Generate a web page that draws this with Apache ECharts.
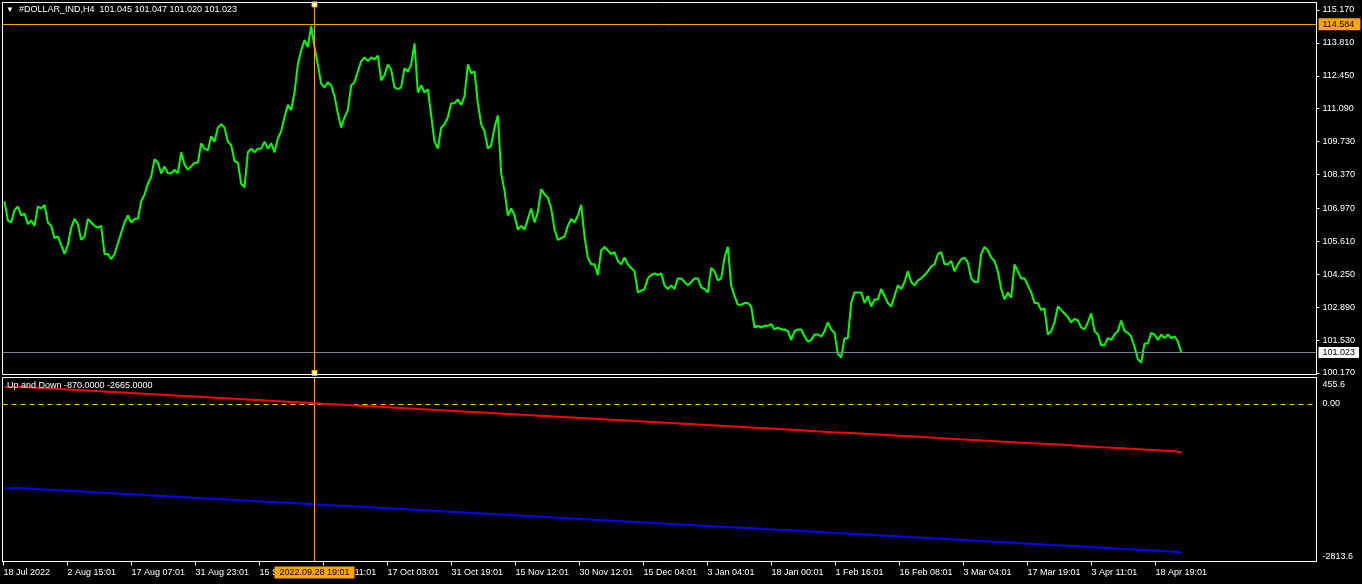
<!DOCTYPE html>
<html>
<head>
<meta charset="utf-8">
<script src="https://cdn.jsdelivr.net/npm/echarts/dist/echarts.min.js"></script>
<style>
html,body{margin:0;padding:0;background:#000;}
#chart{width:1362px;height:584px;}
</style>
</head>
<body>
<div id="chart"></div>
<script>
// ---------- DATA ----------
// H4 close prices, one sample every 10/3 bars
const priceValues = [
107.26,106.47,106.39,106.90,107.05,106.68,106.76,106.32,106.47,106.25,
107.05,106.97,107.12,106.39,106.25,105.74,105.81,105.45,105.09,105.45,
106.18,106.54,106.32,105.67,105.81,106.54,106.39,106.25,106.18,106.25,
105.09,105.09,104.87,105.09,105.52,105.96,106.39,106.68,106.39,106.54,
106.54,107.26,107.55,107.99,108.28,109.00,108.86,108.42,108.71,108.42,
108.42,108.57,108.42,109.29,108.79,108.57,108.71,108.86,108.86,109.66,
109.44,109.37,109.95,109.73,110.31,110.45,110.31,109.73,109.58,108.93,
108.86,107.99,107.84,109.29,109.44,109.29,109.44,109.44,109.73,109.44,
109.66,109.29,109.87,110.16,110.74,111.25,111.03,111.76,112.92,113.50,
113.93,113.64,114.51,113.64,112.92,112.12,111.97,112.19,112.05,111.61,
110.89,110.31,110.74,111.03,112.05,112.19,112.63,113.06,113.21,113.06,
113.21,113.13,113.28,112.26,112.48,112.92,112.70,111.97,111.90,111.97,
112.77,112.63,112.92,113.79,111.76,112.05,111.76,111.90,110.81,109.73,
109.44,110.31,110.45,110.74,111.32,111.32,111.47,111.25,111.61,112.92,
112.55,112.63,111.32,110.45,110.16,109.44,109.58,110.31,110.81,108.42,
107.70,106.68,106.97,106.68,106.10,106.25,106.10,106.54,106.97,106.39,
106.83,107.77,107.55,107.41,106.97,106.10,105.67,105.74,105.81,106.25,
106.54,106.39,106.68,107.12,105.81,104.94,104.66,104.66,104.22,105.23,
105.38,105.23,105.09,105.16,104.80,104.66,104.94,104.66,104.51,104.37,
103.50,103.57,103.64,104.08,104.22,104.29,104.22,104.29,103.79,103.64,
103.79,103.64,104.08,104.08,103.93,103.79,103.93,104.08,104.08,103.71,
103.64,103.50,104.51,104.37,104.00,104.08,104.94,105.38,103.79,103.35,
102.99,102.99,103.06,103.06,102.92,102.05,102.12,102.05,102.12,102.12,
102.19,101.97,102.05,101.97,101.97,101.90,101.54,101.90,101.97,101.97,
101.68,101.47,101.54,101.76,101.76,101.68,101.90,102.26,101.97,101.83,
100.96,100.81,101.61,101.61,103.06,103.50,103.50,103.50,103.06,103.35,
102.92,103.21,103.21,103.64,103.35,103.06,102.92,103.35,103.79,103.64,
103.93,104.37,103.93,103.79,104.00,104.08,104.22,104.37,104.58,104.66,
105.09,105.16,104.66,104.66,104.80,104.37,104.66,104.87,104.94,104.73,
104.08,103.93,103.93,105.09,105.38,105.23,104.94,104.80,104.37,103.64,
103.21,103.50,103.28,104.66,104.37,104.08,104.08,103.79,103.50,103.06,
103.06,102.77,102.84,101.76,101.90,102.26,102.92,102.77,102.63,102.48,
102.26,102.41,102.34,102.05,101.97,102.26,102.63,101.90,101.76,101.32,
101.32,101.61,101.54,101.76,101.90,102.34,101.90,101.83,101.68,101.25,
100.74,100.60,101.39,101.39,101.83,101.76,101.54,101.76,101.61,101.76,
101.61,101.68,101.47,101.02
];
const PRICE_SAMPLE_BARS = 10 / 3;

// "Up and Down" indicator, one value every 18 bars, last value on the last bar
const upValues = [
300,282,264,246,229,211,193,175,157,139,
121,103,85,67,49,32,14,-4,-22,-40,
-58,-76,-94,-112,-129,-147,-165,-183,-201,-219,
-237,-255,-273,-291,-309,-326,-344,-362,-380,-398,
-416,-434,-452,-470,-488,-506,-523,-541,-559,-577,
-595,-613,-631,-649,-667,-685,-703,-720,-738,-756,
-774,-792,-810,-828,-846,-864,-870
];
const downValues = [
-1509,-1527,-1544,-1562,-1580,-1597,-1615,-1633,-1650,-1668,
-1686,-1703,-1721,-1739,-1757,-1774,-1792,-1810,-1827,-1845,
-1863,-1880,-1898,-1916,-1933,-1951,-1969,-1986,-2004,-2022,
-2039,-2057,-2075,-2092,-2110,-2128,-2146,-2163,-2181,-2199,
-2216,-2234,-2252,-2269,-2287,-2305,-2322,-2340,-2358,-2375,
-2393,-2411,-2428,-2446,-2464,-2481,-2499,-2517,-2534,-2552,
-2570,-2588,-2605,-2623,-2641,-2658,-2665
];
const IND_SAMPLE_BARS = 18;

// x-axis labels, one every 64 bars
const xLabels = ['18 Jul 2022','2 Aug 15:01','17 Aug 07:01','31 Aug 23:01','15 Sep 15:01',
  '30 Sep 11:01','17 Oct 03:01','31 Oct 19:01','15 Nov 12:01','30 Nov 12:01','15 Dec 04:01',
  '3 Jan 04:01','18 Jan 00:01','1 Feb 16:01','16 Feb 08:01','3 Mar 04:01','17 Mar 19:01',
  '3 Apr 11:01','18 Apr 19:01'];
const X_LABEL_BARS = 64;

const priceTicks = [115.17,113.81,112.45,111.09,109.73,108.37,106.97,105.61,104.25,102.89,101.53,100.17];
const indTicks = [455.6, 0, -2813.6];

const crossBar = 311;
const crossPrice = 114.584;
const crossLabel = '2022.09.28 19:01';
const bidPrice = 101.023;
const ohlcText = '101.045 101.047 101.020 101.023';

// ---------- BUILD ----------
const FONT = '"Liberation Sans", Arial, sans-serif';
const lastBar = 1 + (priceValues.length - 1) * PRICE_SAMPLE_BARS;
const priceData = priceValues.map((v, i) => [1 + i * PRICE_SAMPLE_BARS, v]);
const indBar = (k, n) => (k === n - 1 ? lastBar : 1 + k * IND_SAMPLE_BARS);
const upData = upValues.map((v, k) => [indBar(k, upValues.length), v]);
const downData = downValues.map((v, k) => [indBar(k, downValues.length), v]);
const tickBars = xLabels.map((_, i) => i * X_LABEL_BARS);

const ORANGE = '#ffa500';
const PRICE_MIN = 100.108, PRICE_MAX = 115.480;
const IND_MIN = -2817, IND_MAX = 470;

const chart = echarts.init(document.getElementById('chart'), null, {renderer: 'canvas'});
chart.setOption({
  backgroundColor: '#000',
  animation: false,
  textStyle: {fontFamily: FONT},
  title: [
    {
      text: '{tri|▼}  #DOLLAR_IND,H4  ' + ohlcText,
      left: 6, top: 5, padding: 0, z: 20,
      textStyle: {color: '#fff', fontSize: 9, fontWeight: 'normal', fontFamily: FONT,
        rich: {tri: {fontSize: 8, color: '#fff', fontFamily: FONT}}}
    },
    {
      text: 'Up and Down ' + upValues[upValues.length - 1].toFixed(4) + ' ' + downValues[downValues.length - 1].toFixed(4),
      left: 7, top: 381, padding: 0, z: 20,
      textStyle: {color: '#fff', fontSize: 9, fontWeight: 'normal', fontFamily: FONT}
    }
  ],
  grid: [
    {left: 2.5, right: 45.5, top: 2.5, height: 372, show: true, borderColor: '#fff', borderWidth: 1, backgroundColor: 'transparent'},
    {left: 2.5, right: 45.5, top: 377.5, height: 184, show: true, borderColor: '#fff', borderWidth: 1, backgroundColor: 'transparent'}
  ],
  xAxis: [
    {type: 'value', gridIndex: 0, min: -1, max: 1313, show: false, axisLine: {onZero: false}},
    {
      type: 'value', gridIndex: 1, min: -1, max: 1313, z: 0,
      axisLine: {show: true, onZero: false, lineStyle: {color: '#fff', width: 1}},
      axisTick: {show: true, customValues: tickBars, length: 4, lineStyle: {color: '#fff'}},
      axisLabel: {customValues: tickBars, formatter: v => xLabels[tickBars.indexOf(v)],
        align: 'left', color: '#fff', fontSize: 9, fontFamily: FONT, margin: 7},
      splitLine: {show: false}
    }
  ],
  yAxis: [
    {
      type: 'value', gridIndex: 0, position: 'right', min: PRICE_MIN, max: PRICE_MAX,
      axisLine: {show: true, onZero: false, lineStyle: {color: '#fff'}},
      axisTick: {show: true, customValues: priceTicks, length: 3, lineStyle: {color: '#fff'}},
      axisLabel: {customValues: priceTicks, formatter: v => v.toFixed(3), color: '#fff', fontSize: 9, fontFamily: FONT, margin: 6},
      splitLine: {show: false}
    },
    {
      type: 'value', gridIndex: 1, position: 'right', min: IND_MIN, max: IND_MAX,
      axisLine: {show: true, onZero: false, lineStyle: {color: '#fff'}},
      axisTick: {show: false},
      axisLabel: {
        customValues: indTicks, color: '#fff', fontSize: 9, fontFamily: FONT, margin: 6,
        formatter: v => v === 0 ? '{m|' + v.toFixed(2) + '}' : (v > 0 ? '{t|' + v + '}' : '{b|' + v + '}'),
        rich: {
          t: {padding: [12, 0, 0, 0], color: '#fff', fontSize: 9, fontFamily: FONT},
          b: {padding: [0, 0, 9, 0], color: '#fff', fontSize: 9, fontFamily: FONT},
          m: {color: '#fff', fontSize: 9, fontFamily: FONT}
        }
      },
      splitLine: {show: false}
    }
  ],
  series: [
    {
      name: 'price', type: 'line', xAxisIndex: 0, yAxisIndex: 0,
      data: priceData, showSymbol: false, symbol: 'none',
      lineStyle: {color: '#00ff00', width: 2}, z: 3,
      markLine: {
        symbol: 'none', silent: true, animation: false,
        data: [
          {yAxis: crossPrice, lineStyle: {color: ORANGE, type: 'solid', width: 1},
            label: {show: true, position: 'end', distance: 2, formatter: crossPrice.toFixed(3),
              backgroundColor: ORANGE, color: '#000', fontSize: 9, fontFamily: FONT,
              padding: [1, 6, 1, 4], lineHeight: 10}},
          {yAxis: bidPrice, lineStyle: {color: '#778899', type: 'solid', width: 1},
            label: {show: true, position: 'end', distance: 2, formatter: bidPrice.toFixed(3),
              backgroundColor: '#fff', color: '#000', fontSize: 9, fontFamily: FONT,
              padding: [1, 4, 0, 4], lineHeight: 10}},
          {xAxis: crossBar, lineStyle: {color: ORANGE, type: 'solid', width: 1}, label: {show: false}}
        ]
      },
      markPoint: {
        silent: true, symbol: 'rect', symbolSize: 5,
        itemStyle: {color: '#fff', borderColor: ORANGE, borderWidth: 1},
        label: {show: false},
        data: [{coord: [crossBar, 115.40]}, {coord: [crossBar, 100.17]}]
      }
    },
    {
      name: 'up', type: 'line', xAxisIndex: 1, yAxisIndex: 1, step: 'end', z: 10,
      data: upData, showSymbol: false, symbol: 'none',
      lineStyle: {color: '#ff0000', width: 2},
      markLine: {
        symbol: 'none', silent: true, animation: false,
        data: [
          {yAxis: 0, lineStyle: {color: '#ffc800', type: [5, 4], width: 1}, label: {show: false}},
          {xAxis: crossBar, lineStyle: {color: ORANGE, type: 'solid', width: 1},
            label: {show: true, position: 'start', distance: 5, formatter: crossLabel,
              backgroundColor: ORANGE, color: '#000', fontSize: 9, fontFamily: FONT,
              padding: [1, 5, 1, 5], lineHeight: 10}}
        ]
      }
    },
    {
      name: 'down', type: 'line', xAxisIndex: 1, yAxisIndex: 1, step: 'end',
      data: downData, showSymbol: false, symbol: 'none',
      lineStyle: {color: '#0000ff', width: 2}
    }
  ]
});
</script>
</body>
</html>
